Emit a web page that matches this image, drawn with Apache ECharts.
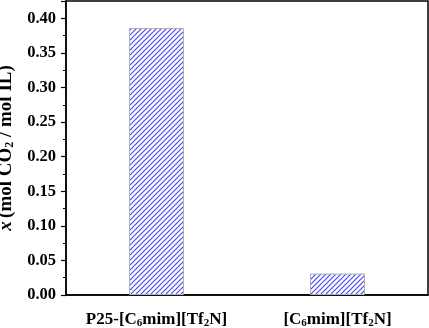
<!DOCTYPE html>
<html>
<head>
<meta charset="utf-8">
<script src="https://cdn.jsdelivr.net/npm/echarts@6/dist/echarts.min.js"></script>
<style>
  html, body { margin: 0; padding: 0; background: #fff; }
  #chart { width: 429px; height: 328px; }
</style>
</head>
<body>
<div id="chart"></div>
<script>
const categories = ['P25-[C6mim][Tf2N]', '[C6mim][Tf2N]']
const uptake = [0.386, 0.031]

const serif = 'Liberation Serif'

// hatch pattern for the bars
function hatch() {
  const s = 5
  const c = document.createElement('canvas')
  c.width = s
  c.height = s
  const g = c.getContext('2d')
  g.fillStyle = '#fff'
  g.fillRect(0, 0, s, s)
  g.strokeStyle = '#4a4af0'
  g.lineWidth = 1.2
  g.beginPath()
  g.moveTo(-1, s + 1); g.lineTo(s + 1, -1)
  g.moveTo(-1, 1); g.lineTo(1, -1)
  g.moveTo(s - 1, s + 1); g.lineTo(s + 1, s - 1)
  g.stroke()
  return c
}

function subLabel(v) {
  return '{n|' + v.replace(/(C|Tf)(\d)/g, '$1}{s|$2}{n|') + '}'
}

const rich = {
  n: { fontFamily: serif, fontWeight: 'bold', fontSize: 17, color: '#000' },
  s: { fontFamily: serif, fontWeight: 'bold', fontSize: 11, color: '#000', padding: [8, 0, 0, 0] }
}

const chart = echarts.init(document.getElementById('chart'))
chart.setOption({
  animation: false,
  grid: {
    left: 66, right: 1, top: 1, bottom: 33,
    outerBoundsMode: 'none',
    containLabel: false,
    show: true, borderColor: '#000', borderWidth: 1.5
  },
  xAxis: [
    {
      type: 'category',
      data: categories,
      axisLine: { lineStyle: { color: '#000', width: 1.5 } },
      axisTick: { alignWithLabel: true, length: 5, lineStyle: { color: '#000', width: 1.2 } },
      axisLabel: { interval: 0, margin: 15, formatter: subLabel, rich: rich }
    },
    {
      type: 'category',
      data: categories,
      position: 'bottom',
      axisLine: { show: false },
      axisTick: { length: 3, lineStyle: { color: '#000', width: 1.2 } },
      axisLabel: { show: false }
    }
  ],
  yAxis: {
    type: 'value',
    min: 0,
    max: 0.425,
    interval: 0.05,
    name: '{i|x} {n|(mol CO}{s|2}{n| / mol IL)}',
    nameLocation: 'middle',
    nameGap: 39,
    nameTextStyle: {
      rich: {
        i: { fontFamily: serif, fontWeight: 'bold', fontStyle: 'italic', fontSize: 19, color: '#000' },
        n: { fontFamily: serif, fontWeight: 'bold', fontSize: 19, color: '#000' },
        s: { fontFamily: serif, fontWeight: 'bold', fontSize: 12, color: '#000', padding: [9, 0, 0, 0] }
      }
    },
    axisLine: { show: true, lineStyle: { color: '#000', width: 1.5 } },
    axisTick: { show: true, length: 5, lineStyle: { color: '#000', width: 1.2 } },
    minorTick: { show: true, splitNumber: 2, length: 3, lineStyle: { color: '#000', width: 1 } },
    splitLine: { show: false },
    axisLabel: {
      showMaxLabel: false,
      margin: 10,
      fontFamily: serif, fontWeight: 'bold', fontSize: 16.5, color: '#000',
      formatter: v => v.toFixed(2)
    }
  },
  series: [{
    type: 'bar',
    data: uptake,
    barWidth: 55,
    itemStyle: {
      color: { image: hatch(), repeat: 'repeat' },
      borderColor: '#b0b0b0',
      borderWidth: 1
    }
  }]
})
</script>
</body>
</html>
